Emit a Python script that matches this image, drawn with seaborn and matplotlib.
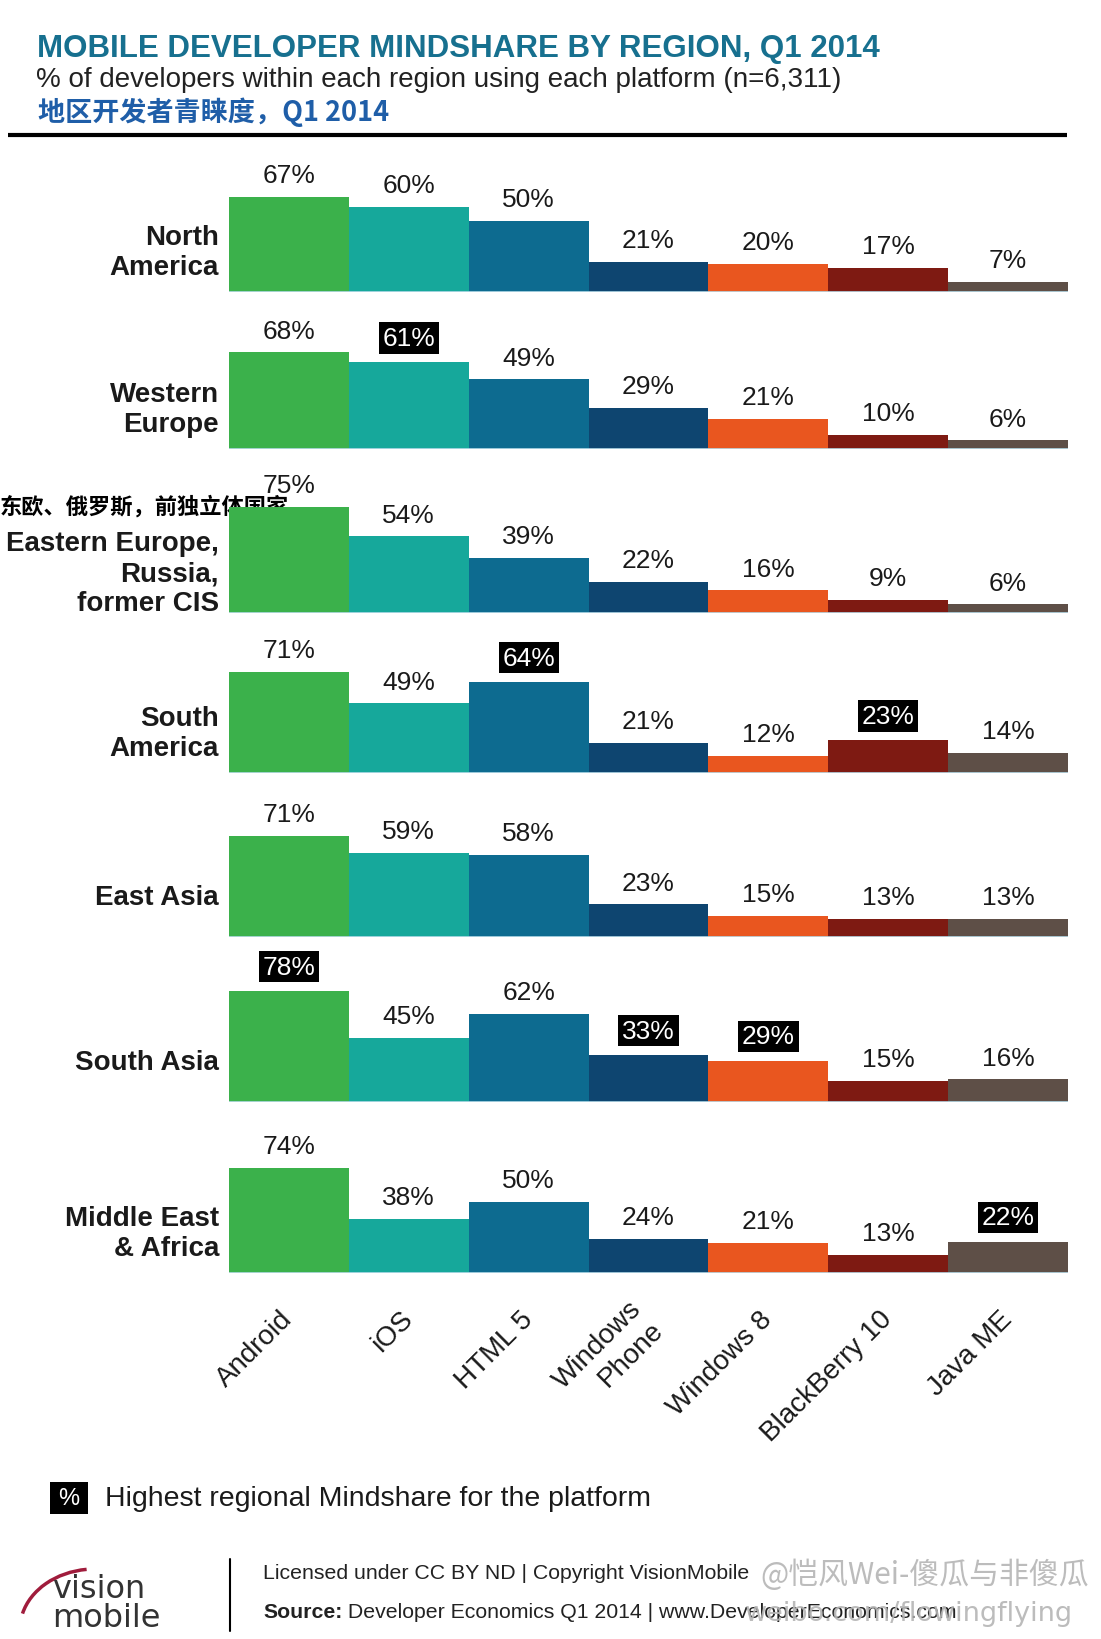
import matplotlib
matplotlib.use("Agg")
import matplotlib.pyplot as plt
from matplotlib import transforms
from matplotlib.patches import Rectangle, Arc
import seaborn as sns
import pandas as pd

# platforms (x categories) and regions (rows)
platforms = ["Android", "iOS", "HTML 5", "Windows\nPhone", "Windows 8", "BlackBerry 10", "Java ME"]
regions = ["North\nAmerica", "Western\nEurope", "Eastern Europe,\nRussia,\nformer CIS",
           "South\nAmerica", "East Asia", "South Asia", "Middle East\n& Africa"]

# % of developers using each platform, per region
north_america = [67, 60, 50, 21, 20, 17, 7]
western_europe = [68, 61, 49, 29, 21, 10, 6]
eastern_europe = [75, 54, 39, 22, 16, 9, 6]
south_america = [71, 49, 64, 21, 12, 23, 14]
east_asia = [71, 59, 58, 23, 15, 13, 13]
south_asia = [78, 45, 62, 33, 29, 15, 16]
middle_east_africa = [74, 38, 50, 24, 21, 13, 22]

platform_colors = ["#3bb14b", "#16a89b", "#0d6b90", "#0e4570", "#e9561f", "#7e1a12", "#5e4f47"]

region_values = [north_america, western_europe, eastern_europe, south_america,
                 east_asia, south_asia, middle_east_africa]

# layout (pixels in a 1101x1640 canvas)
W, H = 1101, 1640
baselines = [293, 450, 614, 774, 938, 1103, 1274]
ax_left, ax_right = 229, 1068
px_per_pct = 1.42
ax_h = 125

sns.set_theme(style="white")
plt.rcParams["font.family"] = ["Liberation Sans", "Noto Sans CJK SC", "DejaVu Sans"]
cjk = ["Noto Sans CJK SC", "DejaVu Sans"]

fig = plt.figure(figsize=(W / 100, H / 100), dpi=100)

# overlay for titles / decorations, in pixel coordinates
deco = fig.add_axes([0, 0, 1, 1])
deco.set_xlim(0, W)
deco.set_ylim(H, 0)
deco.axis("off")

deco.text(37, 57, "MOBILE DEVELOPER MINDSHARE BY REGION, Q1 2014", fontsize=22.5,
          fontweight="bold", color="#17708f", va="baseline")
deco.text(36, 87, "% of developers within each region using each platform (n=6,311)",
          fontsize=20, color="#222222", va="baseline")
deco.text(38, 121, "地区开发者青睐度，Q1 2014", fontsize=19.5, fontweight="bold",
          color="#1f5ea8", va="baseline", family=cjk)
deco.plot([8, 1067], [136, 136], color="black", lw=3, solid_capstyle="butt")

# highest value per platform gets a black label
highest = [max(col) for col in zip(*region_values)]

for r, (region, vals, base) in enumerate(zip(regions, region_values, baselines)):
    ax = fig.add_axes([ax_left / W, 1 - base / H, (ax_right - ax_left) / W, ax_h / H])
    df = pd.DataFrame({"platform": platforms, "value": vals})
    sns.barplot(data=df, x="platform", y="value", hue="platform", palette=platform_colors,
                width=1.0, saturation=1, legend=False, linewidth=0, ax=ax)
    ax.set_xlim(-0.5, 6.5)
    ax.set_ylim(0, ax_h / px_per_pct)
    ax.axhline(0, color="#b8dbe8", lw=1.2)
    ax.set(xlabel="", ylabel="")
    ax.set_yticks([])
    sns.despine(ax=ax, left=True, bottom=True)
    ax.patch.set_alpha(0)

    for i, v in enumerate(vals):
        if v == highest[i]:
            ax.annotate(f"{v}%", (i, v), xytext=(0, 9), textcoords="offset points",
                        ha="center", va="bottom", fontsize=19, color="white",
                        bbox=dict(boxstyle="square,pad=0.14", fc="black", ec="none"),
                        annotation_clip=False)
        else:
            ax.annotate(f"{v}%", (i, v), xytext=(0, 7), textcoords="offset points",
                        ha="center", va="bottom", fontsize=19, color="#1a1a1a",
                        annotation_clip=False)

    tr = transforms.blended_transform_factory(ax.transAxes, ax.transData)
    ax.text(-0.012, 40 / px_per_pct, region, transform=tr, ha="right", va="center",
            fontsize=20, fontweight="bold", color="#1a1a1a", linespacing=1.22)

    if r == len(regions) - 1:
        ax.set_xticks(range(len(platforms)))
        ax.set_xticklabels(platforms, rotation=45, ha="right", va="center",
                           rotation_mode="anchor", fontsize=20, color="#1a1a1a")
        ax.tick_params(axis="x", length=0, pad=30)
    else:
        ax.set_xticks([])

deco.text(0, 507, "东欧、俄罗斯，前独立体国家", fontsize=16, fontweight="bold",
          color="black", va="center", family=cjk, zorder=10)

# legend
deco.add_patch(Rectangle((50, 1483), 38, 32, fc="black", ec="none"))
deco.text(69, 1499, "%", color="white", fontsize=17, ha="center", va="center")
deco.text(105, 1499, "Highest regional Mindshare for the platform", fontsize=20.5,
          color="#1a1a1a", va="center")

# footer
deco.add_patch(Arc((95, 1630), 150, 120, theta1=192, theta2=262, color="#a01c3c", lw=2.5))
deco.text(52, 1604, "vision\nmobile", fontsize=23, color="#333333", va="center",
          linespacing=0.92, family="DejaVu Sans")
deco.plot([230, 230], [1560, 1632], color="black", lw=1.5)
deco.text(263, 1574, "Licensed under CC BY ND | Copyright VisionMobile", fontsize=15.3,
          color="#222222", va="center")
src = deco.text(263, 1613, "Source:", fontsize=15.3, fontweight="bold", color="#222222",
                va="center")
deco.annotate(" Developer Economics Q1 2014 | www.DeveloperEconomics.com", xy=(1, 0.5),
              xycoords=src, fontsize=15.3, color="#222222", va="center")

# weibo watermark
deco.text(760, 1575, "@恺风Wei-傻瓜与非傻瓜", fontsize=21.5, color="#b5b5b5", alpha=0.9,
          va="center", family=cjk)
deco.text(745, 1614, "weibo.com/flowingflying", fontsize=19.5, color="#b5b5b5", alpha=0.9,
          va="center", family="DejaVu Sans")

fig.savefig("out.png", dpi=100)
